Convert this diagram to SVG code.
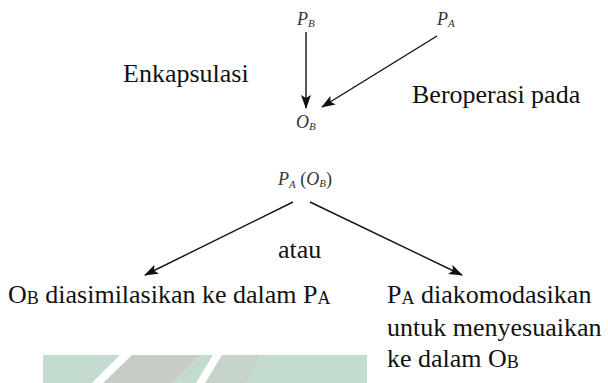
<svg xmlns="http://www.w3.org/2000/svg" width="608" height="383" viewBox="0 0 608 383">
<style>
text{font-family:'Liberation Serif','Times New Roman','DejaVu Serif',serif}
.t{font-size:26px;fill:#111}
.m{font-size:18px;font-style:italic;fill:#333}
.c{stroke:#111;stroke-width:1.4;fill:none}
</style>
<defs>
<marker id="ah" viewBox="0 0 14 10" refX="13" refY="5" markerWidth="14" markerHeight="10" markerUnits="userSpaceOnUse" orient="auto">
<path d="M0,0 L14,5 L0,10 L3,5 Z" fill="#111"/>
</marker>
</defs>
<rect width="608" height="383" fill="#fff"/>
<g id="watermark">
<rect x="43" y="355" width="324" height="28" fill="#c4dbcf"/>
<polygon points="103,383 132,355 200,355 172,383" fill="#c7cdc6"/>
<polygon points="205,383 222,355 260,355 245,383" fill="#c6d3ca"/>
<polygon points="92,383 120,355 132,355 103,383" fill="#fff"/>
<polygon points="196,383 213,355 222,355 205,383" fill="#fff"/>
</g>
<g id="connectors">
<line class="c" x1="306" y1="32" x2="306" y2="108" marker-end="url(#ah)"/>
<line class="c" x1="437" y1="36" x2="322" y2="107" marker-end="url(#ah)"/>
<line class="c" x1="293" y1="202" x2="145" y2="275" marker-end="url(#ah)"/>
<line class="c" x1="310" y1="202" x2="462" y2="275" marker-end="url(#ah)"/>
</g>
<g id="PB"><text class="m" font-family="Liberation Serif" x="297" y="25">P<tspan font-size="11" dy="2">B</tspan></text></g>
<g id="PA"><text class="m" font-family="Liberation Serif" x="437" y="25">P<tspan font-size="11" dy="2">A</tspan></text></g>
<g id="OB"><text class="m" font-family="Liberation Serif" x="296" y="128">O<tspan font-size="11" dy="2">B</tspan></text></g>
<g id="PAOB"><text class="m" font-family="Liberation Serif" x="278" y="185">P<tspan font-size="11" dy="3">A</tspan><tspan dy="-3" font-style="normal"> (</tspan>O<tspan font-size="11" dy="2">B</tspan><tspan dy="-2" font-style="normal">)</tspan></text></g>
<g id="lbl-enkapsulasi"><text class="t" font-family="Liberation Serif" x="123" y="82">Enkapsulasi</text></g>
<g id="lbl-beroperasi"><text class="t" font-family="Liberation Serif" x="412" y="103">Beroperasi pada</text></g>
<g id="lbl-atau"><text class="t" font-family="Liberation Serif" x="278" y="258">atau</text></g>
<g id="res-left"><text class="t" font-family="Liberation Serif" x="8" y="303">O<tspan font-size="18" dy="1">B</tspan><tspan dy="-1"> diasimilasikan ke dalam P</tspan><tspan font-size="18" dy="1">A</tspan></text></g>
<g id="res-right">
<text class="t" font-family="Liberation Serif" x="387" y="303">P<tspan font-size="18" dy="1">A</tspan><tspan dy="-1"> diakomodasikan</tspan></text>
<text class="t" font-family="Liberation Serif" x="387" y="336">untuk menyesuaikan</text>
<text class="t" font-family="Liberation Serif" x="387" y="367">ke dalam O<tspan font-size="18" dy="1">B</tspan></text>
</g>
</svg>
